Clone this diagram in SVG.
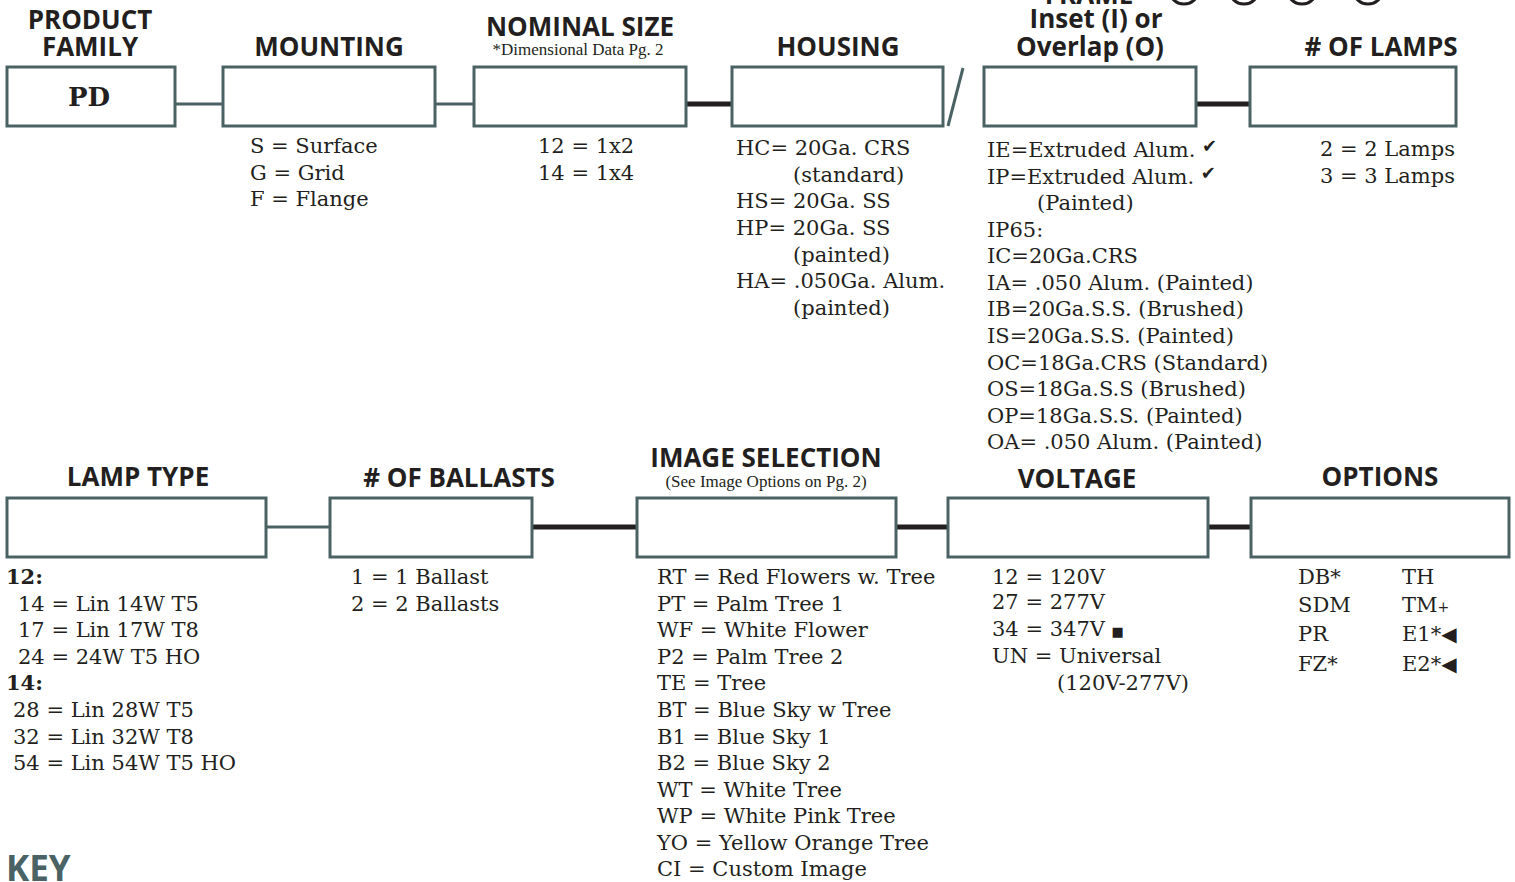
<svg xmlns="http://www.w3.org/2000/svg" width="1515" height="882" viewBox="0 0 1515 882">
<style>
.box{fill:#fff;stroke:#4b6265;stroke-width:3}
.thin{stroke:#4b6265;stroke-width:3;fill:none}
.thick{stroke:#231f20;stroke-width:5;fill:none}
.h{font-family:"Open Sans","Liberation Sans",sans-serif;font-weight:700;font-size:26px;fill:#231f20;text-anchor:middle}
.sub{font-family:"Liberation Serif",serif;font-size:17px;fill:#231f20;text-anchor:middle}
.t{font-family:"DejaVu Serif","Liberation Serif",serif;font-size:21px;fill:#231f20}
.b{font-weight:700}
.sym{font-family:"DejaVu Sans",sans-serif;font-size:18px}
.key{font-family:"Open Sans","Liberation Sans",sans-serif;font-weight:700;font-size:35px;fill:#4b6265}
</style>
<rect width="1515" height="882" fill="#fff"/>

<g id="frame-title">
<text class="h" x="1089" y="4">FRAME</text>
<circle cx="1184" cy="-11" r="15" fill="none" stroke="#231f20" stroke-width="3"/>
<circle cx="1244" cy="-11" r="15" fill="none" stroke="#231f20" stroke-width="3"/>
<circle cx="1302" cy="-11" r="15" fill="none" stroke="#231f20" stroke-width="3"/>
<circle cx="1368" cy="-11" r="15" fill="none" stroke="#231f20" stroke-width="3"/>
</g>

<g id="connectors">
<line class="thin" x1="175" y1="104" x2="223" y2="104"/>
<line class="thin" x1="435" y1="104" x2="474" y2="104"/>
<line class="thick" x1="686" y1="104" x2="732" y2="104"/>
<line class="thin" x1="963" y1="68" x2="948" y2="126"/>
<line class="thick" x1="1196" y1="104" x2="1250" y2="104"/>
<line class="thin" x1="266" y1="527" x2="330" y2="527"/>
<line class="thick" x1="532" y1="527" x2="637" y2="527"/>
<line class="thick" x1="896" y1="527" x2="948" y2="527"/>
<line class="thick" x1="1208" y1="527" x2="1251" y2="527"/>
</g>

<g id="product-family">
<text class="h" x="90" y="29">PRODUCT</text>
<text class="h" x="90" y="56">FAMILY</text>
<rect class="box" x="7" y="67" width="168" height="59"/>
<text class="t b" x="89" y="106" text-anchor="middle" style="font-size:26px">PD</text>
</g>

<g id="mounting">
<text class="h" x="329" y="56">MOUNTING</text>
<rect class="box" x="223" y="67" width="212" height="59"/>
<text class="t" x="250" y="153">S = Surface</text>
<text class="t" x="250" y="180">G = Grid</text>
<text class="t" x="250" y="206">F = Flange</text>
</g>

<g id="nominal-size">
<text class="h" x="580" y="36">NOMINAL SIZE</text>
<text class="sub" x="578" y="55">*Dimensional Data Pg. 2</text>
<rect class="box" x="474" y="67" width="212" height="59"/>
<text class="t" x="538" y="153">12 = 1x2</text>
<text class="t" x="538" y="180">14 = 1x4</text>
</g>

<g id="housing">
<text class="h" x="838" y="56">HOUSING</text>
<rect class="box" x="732" y="67" width="211" height="59"/>
<text class="t" x="736" y="155">HC= 20Ga. CRS</text>
<text class="t" x="793" y="182">(standard)</text>
<text class="t" x="736" y="208">HS= 20Ga. SS</text>
<text class="t" x="736" y="235">HP= 20Ga. SS</text>
<text class="t" x="793" y="262">(painted)</text>
<text class="t" x="736" y="288">HA= .050Ga. Alum.</text>
<text class="t" x="793" y="315">(painted)</text>
</g>

<g id="frame">
<text class="h" x="1096" y="28">Inset (I) or</text>
<text class="h" x="1090" y="56">Overlap (O)</text>
<rect class="box" x="984" y="67" width="212" height="59"/>
<text class="t" x="987" y="157">IE=Extruded Alum. <tspan class="sym" dy="-5">✔</tspan></text>
<text class="t" x="987" y="184">IP=Extruded Alum. <tspan class="sym" dy="-5">✔</tspan></text>
<text class="t" x="1037" y="210">(Painted)</text>
<text class="t" x="987" y="237">IP65:</text>
<text class="t" x="987" y="263">IC=20Ga.CRS</text>
<text class="t" x="987" y="290">IA= .050 Alum. (Painted)</text>
<text class="t" x="987" y="316">IB=20Ga.S.S. (Brushed)</text>
<text class="t" x="987" y="343">IS=20Ga.S.S. (Painted)</text>
<text class="t" x="987" y="370">OC=18Ga.CRS (Standard)</text>
<text class="t" x="987" y="396">OS=18Ga.S.S (Brushed)</text>
<text class="t" x="987" y="423">OP=18Ga.S.S. (Painted)</text>
<text class="t" x="987" y="449">OA= .050 Alum. (Painted)</text>
</g>

<g id="lamps">
<text class="h" x="1381" y="56"># OF LAMPS</text>
<rect class="box" x="1250" y="67" width="206" height="59"/>
<text class="t" x="1320" y="156">2 = 2 Lamps</text>
<text class="t" x="1320" y="183">3 = 3 Lamps</text>
</g>

<g id="lamp-type">
<text class="h" x="138" y="486">LAMP TYPE</text>
<rect class="box" x="7" y="498" width="259" height="59"/>
<text class="t b" x="6" y="584">12:</text>
<text class="t" x="18" y="611">14 = Lin 14W T5</text>
<text class="t" x="18" y="637">17 = Lin 17W T8</text>
<text class="t" x="18" y="664">24 = 24W T5 HO</text>
<text class="t b" x="6" y="690">14:</text>
<text class="t" x="13" y="717">28 = Lin 28W T5</text>
<text class="t" x="13" y="744">32 = Lin 32W T8</text>
<text class="t" x="13" y="770">54 = Lin 54W T5 HO</text>
</g>

<g id="ballasts">
<text class="h" x="459" y="487"># OF BALLASTS</text>
<rect class="box" x="330" y="498" width="202" height="59"/>
<text class="t" x="351" y="584">1 = 1 Ballast</text>
<text class="t" x="351" y="611">2 = 2 Ballasts</text>
</g>

<g id="image-selection">
<text class="h" x="766" y="467">IMAGE SELECTION</text>
<text class="sub" x="766" y="487">(See Image Options on Pg. 2)</text>
<rect class="box" x="637" y="498" width="259" height="59"/>
<text class="t" x="657" y="584">RT = Red Flowers w. Tree</text>
<text class="t" x="657" y="611">PT = Palm Tree 1</text>
<text class="t" x="657" y="637">WF = White Flower</text>
<text class="t" x="657" y="664">P2 = Palm Tree 2</text>
<text class="t" x="657" y="690">TE = Tree</text>
<text class="t" x="657" y="717">BT = Blue Sky w Tree</text>
<text class="t" x="657" y="744">B1 = Blue Sky 1</text>
<text class="t" x="657" y="770">B2 = Blue Sky 2</text>
<text class="t" x="657" y="797">WT = White Tree</text>
<text class="t" x="657" y="823">WP = White Pink Tree</text>
<text class="t" x="657" y="850">YO = Yellow Orange Tree</text>
<text class="t" x="657" y="876">CI = Custom Image</text>
</g>

<g id="voltage">
<text class="h" x="1077" y="488">VOLTAGE</text>
<rect class="box" x="948" y="498" width="260" height="59"/>
<text class="t" x="992" y="584">12 = 120V</text>
<text class="t" x="992" y="609">27 = 277V</text>
<text class="t" x="992" y="636">34 = 347V <tspan class="sym" style="font-size:13px">■</tspan></text>
<text class="t" x="992" y="663">UN = Universal</text>
<text class="t" x="1057" y="690">(120V-277V)</text>
</g>

<g id="options">
<text class="h" x="1380" y="486">OPTIONS</text>
<rect class="box" x="1251" y="498" width="258" height="59"/>
<text class="t" x="1298" y="584">DB*</text>
<text class="t" x="1298" y="612">SDM</text>
<text class="t" x="1298" y="641">PR</text>
<text class="t" x="1298" y="671">FZ*</text>
<text class="t" x="1402" y="584">TH</text>
<text class="t" x="1402" y="612">TM<tspan style="font-size:14px">+</tspan></text>
<text class="t" x="1402" y="641">E1*<tspan class="sym" style="font-size:20px">◀</tspan></text>
<text class="t" x="1402" y="671">E2*<tspan class="sym" style="font-size:20px">◀</tspan></text>
</g>

<g id="key">
<text class="key" x="6" y="881">KEY</text>
</g>
</svg>
